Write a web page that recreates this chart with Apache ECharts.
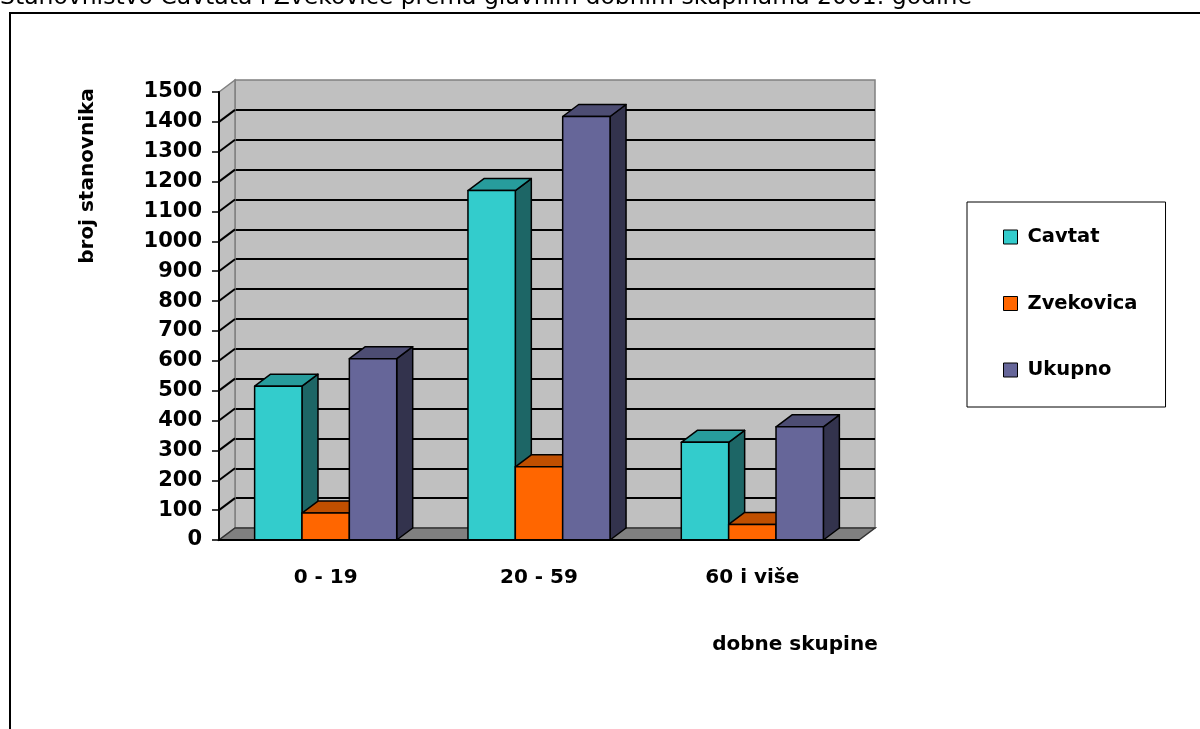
<!DOCTYPE html>
<html>
<head>
<meta charset="utf-8">
<script src="https://cdn.jsdelivr.net/npm/echarts@6.0.0/dist/echarts.min.js"></script>
<style>
    html, body { margin: 0; padding: 0; background: #fff; }
    #chart { width: 1200px; height: 729px; }
</style>
</head>
<body>
<div id="chart"></div>
<script>
// data
const categories = ['0 - 19', '20 - 59', '60 i više'];
const cavtat = [515, 1170, 327];
const zvekovica = [90, 245, 52];
const ukupno = [607, 1418, 379];
const yTicks = [0, 100, 200, 300, 400, 500, 600, 700, 800, 900, 1000, 1100, 1200, 1300, 1400, 1500];

// 3d depth offset of the chart box (px)
const DX = 16;
const DY = -12;
const FONT = 'DejaVu Sans';

const front = { left: 219, top: 92, width: 640, height: 448 };

// face colours: front, top, side
const palette = {
    Cavtat: ['#33cccc', '#279c9c', '#1d6666'],
    Zvekovica: ['#ff6600', '#c04f00', '#803300'],
    Ukupno: ['#666699', '#4d4d73', '#33334d']
};

function barSeries(name, values, slot) {
    const c = palette[name];
    return {
        name: name,
        type: 'custom',
        xAxisIndex: 0,
        yAxisIndex: 0,
        z: 10 + slot,
        itemStyle: { color: c[0], borderColor: '#000', borderWidth: 1 },
        data: values.map(function (v, i) { return [i, v]; }),
        renderItem: function (params, api) {
            const cat = api.value(0);
            const base = api.coord([cat, 0]);
            const top = api.coord([cat, api.value(1)]);
            const band = api.size([1, 0])[0];
            const bw = band * 0.222;
            const x0 = base[0] + (slot - 1.5) * bw;
            const y0 = top[1];
            const y1 = base[1];
            const stroke = { stroke: '#000', lineWidth: 1.5, lineJoin: 'round' };
            return {
                type: 'group',
                children: [
                    {
                        type: 'polygon',
                        shape: { points: [[x0 + bw, y0], [x0 + bw + DX, y0 + DY], [x0 + bw + DX, y1 + DY], [x0 + bw, y1]] },
                        style: Object.assign({ fill: c[2] }, stroke)
                    },
                    {
                        type: 'polygon',
                        shape: { points: [[x0, y0], [x0 + bw, y0], [x0 + bw + DX, y0 + DY], [x0 + DX, y0 + DY]] },
                        style: Object.assign({ fill: c[1] }, stroke)
                    },
                    {
                        type: 'rect',
                        shape: { x: x0, y: y0, width: bw, height: y1 - y0 },
                        style: Object.assign({ fill: c[0] }, stroke)
                    }
                ]
            };
        }
    };
}

const chart = echarts.init(document.getElementById('chart'));
const option = {
    animation: false,
    backgroundColor: '#fff',
    textStyle: { fontFamily: FONT },
    legend: {
        data: ['Cavtat', 'Zvekovica', 'Ukupno'],
        orient: 'vertical',
        left: 967,
        top: 202,
        icon: 'rect',
        itemWidth: 14,
        itemHeight: 14,
        itemGap: 46.5,
        padding: [25, 28, 27, 36],
        borderColor: '#000',
        borderWidth: 1,
        itemStyle: { borderColor: '#000', borderWidth: 1 },
        textStyle: { fontFamily: FONT, fontWeight: 'bold', fontSize: 19.5, color: '#000', padding: [0, 0, 0, 5] }
    },
    grid: [
        {
            left: front.left, top: front.top, width: front.width, height: front.height
        },
        {
            left: front.left + DX, top: front.top + DY, width: front.width, height: front.height,
            show: true, backgroundColor: '#c0c0c0', borderColor: '#808080', borderWidth: 1.5
        }
    ],
    xAxis: [
        {
            type: 'category',
            gridIndex: 0,
            data: categories,
            axisLine: { lineStyle: { color: '#000', width: 2 } },
            axisTick: { length: 8, lineStyle: { color: '#000', width: 2 } },
            axisLabel: { margin: 28, color: '#000', fontSize: 20, fontWeight: 'bold', fontFamily: FONT },
            z: 20
        },
        { type: 'value', gridIndex: 1, show: false }
    ],
    yAxis: [
        {
            type: 'value',
            gridIndex: 0,
            min: 0,
            max: 1500,
            interval: 100,
            axisLine: { show: true, lineStyle: { color: '#000', width: 2 } },
            axisTick: { show: true, length: 7, lineStyle: { color: '#000', width: 1.5 } },
            axisLabel: {
                margin: 17, color: '#000', fontSize: 21, fontWeight: 'bold', fontFamily: FONT,
                formatter: function (v) { return String(v); }
            },
            splitLine: { show: false },
            z: 20
        },
        {
            type: 'value',
            gridIndex: 1,
            min: 0,
            max: 1500,
            interval: 100,
            axisLine: { show: false },
            axisTick: { show: false },
            axisLabel: { show: false },
            splitLine: { show: true, showMinLine: false, showMaxLine: false, lineStyle: { color: '#000', width: 2 } }
        }
    ],
    graphic: [
        {
            type: 'text', left: 0, top: -14, z: 100,
            style: { text: 'Stanovništvo Cavtata i Zvekovice prema glavnim dobnim skupinama 2001. godine', fontFamily: FONT, fontSize: 23.5, fill: '#000' }
        },
        {
            type: 'rect', z: 100,
            shape: { x: 10, y: 13, width: 1300, height: 900 },
            style: { fill: 'none', stroke: '#000', lineWidth: 2 }
        },
        {
            type: 'text', x: 88, y: 176, rotation: Math.PI / 2, z: 100,
            style: { text: 'broj stanovnika', fontFamily: FONT, fontSize: 20, fontWeight: 'bold', fill: '#000', align: 'center', verticalAlign: 'middle' }
        },
        {
            type: 'text', x: 795, y: 645, z: 100,
            style: { text: 'dobne skupine', fontFamily: FONT, fontSize: 20, fontWeight: 'bold', fill: '#000', align: 'center', verticalAlign: 'middle' }
        }
    ],
    series: [
        {
            // left side wall and floor
            name: 'box',
            type: 'custom',
            xAxisIndex: 0,
            yAxisIndex: 0,
            z: 3,
            silent: true,
            data: [[0, 0]],
            renderItem: function (params, api) {
                const cs = params.coordSys;
                const x = cs.x, y = cs.y, w = cs.width, h = cs.height;
                return {
                    type: 'group',
                    children: [
                        {
                            type: 'polygon',
                            shape: { points: [[x, y], [x + DX, y + DY], [x + DX, y + h + DY], [x, y + h]] },
                            style: { fill: '#c0c0c0', stroke: '#808080', lineWidth: 1.5 }
                        },
                        {
                            type: 'polygon',
                            shape: { points: [[x, y + h], [x + w, y + h], [x + w + DX, y + h + DY], [x + DX, y + h + DY]] },
                            style: { fill: '#808080', stroke: '#333', lineWidth: 1.5 }
                        }
                    ]
                };
            }
        },
        {
            // gridline continuation on the side wall
            name: 'wallLines',
            type: 'custom',
            xAxisIndex: 0,
            yAxisIndex: 0,
            z: 4,
            silent: true,
            data: yTicks.slice(1, -1).map(function (v) { return [0, v]; }),
            renderItem: function (params, api) {
                const cs = params.coordSys;
                const yv = api.coord([0, api.value(1)])[1];
                return {
                    type: 'line',
                    shape: { x1: cs.x, y1: yv, x2: cs.x + DX, y2: yv + DY },
                    style: { stroke: '#000', lineWidth: 2 }
                };
            }
        },
        barSeries('Cavtat', cavtat, 0),
        barSeries('Zvekovica', zvekovica, 1),
        barSeries('Ukupno', ukupno, 2)
    ]
};
chart.setOption(option);
window.addEventListener('resize', function () {
    chart.resize();
});
</script>
</body>
</html>
